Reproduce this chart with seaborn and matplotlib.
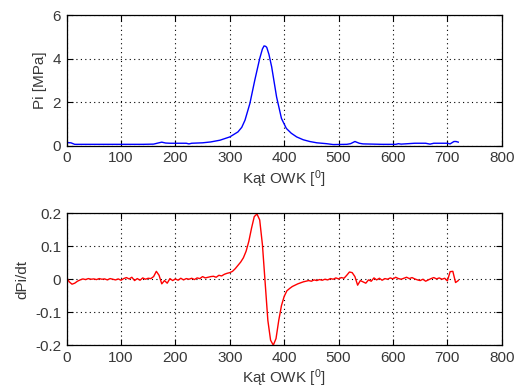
import numpy as np
import pandas as pd
import matplotlib
matplotlib.use("Agg")
import matplotlib.pyplot as plt
import seaborn as sns

# Pi(angle)
PI_ANGLE = [0, 8, 15, 30, 60, 100, 140, 160, 168, 175, 182, 190, 220, 225,
            230, 250, 265, 282, 300, 315, 322, 328, 337, 346, 355, 360, 363,
            366, 368, 372, 377, 386, 395, 404, 413, 423, 435, 447, 460, 478,
            490, 515, 522, 530, 538, 545, 580, 605, 610, 615, 640, 660, 668,
            675, 700, 705, 712, 716, 720]
PI_MPA = [0.15, 0.14, 0.07, 0.07, 0.07, 0.07, 0.07, 0.08, 0.13, 0.17, 0.13,
          0.12, 0.12, 0.09, 0.12, 0.14, 0.18, 0.26, 0.41, 0.64, 0.85, 1.18,
          1.95, 3.02, 4.01, 4.45, 4.59, 4.57, 4.52, 4.20, 3.63, 2.25, 1.26,
          0.80, 0.58, 0.41, 0.28, 0.20, 0.14, 0.10, 0.06, 0.07, 0.10, 0.20,
          0.12, 0.09, 0.07, 0.07, 0.10, 0.08, 0.12, 0.12, 0.08, 0.12, 0.12,
          0.09, 0.20, 0.20, 0.17]

# dPi/dt every 5 degrees, 0..720
DPI_ANGLE = np.arange(0, 725, 5)
DPI_DT = [
    0.005, -0.008, -0.015, -0.012, -0.006, -0.002, 0.001, -0.001, 0.002, 0.000,
    0.001, -0.001, 0.002, 0.000, 0.001, -0.002, 0.002, 0.000, -0.002, 0.001,
    -0.003, 0.002, 0.005, 0.001, 0.006, -0.004, 0.002, -0.003, 0.004, 0.000,
    0.003, 0.002, 0.008, 0.024, 0.012, -0.014, -0.004, -0.012, 0.002, -0.004,
    0.001, -0.003, 0.003, -0.002, 0.002, 0.000, 0.003, -0.001, 0.004, 0.002,
    0.008, 0.004, 0.006, 0.008, 0.009, 0.006, 0.012, 0.010, 0.015, 0.018,
    0.020, 0.024, 0.032, 0.042, 0.052, 0.065, 0.085, 0.115, 0.155, 0.190,
    0.198, 0.180, 0.105, -0.012, -0.125, -0.185, -0.200, -0.180, -0.125, -0.080,
    -0.052, -0.035, -0.028, -0.022, -0.018, -0.014, -0.011, -0.008, -0.006, -0.004,
    -0.006, -0.002, -0.004, -0.001, -0.003, 0.000, -0.002, 0.002, 0.000, 0.004,
    0.001, 0.005, 0.003, 0.012, 0.022, 0.020, 0.008, -0.018, -0.004, -0.008,
    -0.012, -0.002, -0.006, 0.004, -0.002, 0.003, -0.003, 0.002, 0.000, 0.004,
    0.001, 0.006, 0.002, 0.000, 0.003, 0.006, 0.002, 0.005, 0.001, -0.002,
    -0.004, 0.000, -0.006, -0.002, 0.002, 0.005, 0.001, 0.004, 0.000, 0.003,
    -0.005, 0.023, 0.024, -0.010, -0.004,
]

X_TICKS = [0, 100, 200, 300, 400, 500, 600, 700, 800]
PI_TICKS = [0, 2, 4, 6]
DPI_TICKS = [-0.2, -0.1, 0, 0.1, 0.2]
DPI_TICK_LABELS = ["-0.2", "-0.1", "0", "0.1", "0.2"]

XLABEL = "Kąt OWK [$\\mathregular{^0}$]"
TEXT_COLOR = "#383838"

plt.rcParams["font.family"] = ["Liberation Sans", "DejaVu Sans"]
plt.rcParams["mathtext.fontset"] = "custom"
plt.rcParams["mathtext.rm"] = "Liberation Sans"
plt.rcParams["axes.unicode_minus"] = False
plt.rcParams["font.size"] = 11


def style_axes(ax):
    ax.set_xlim(0, 800)
    ax.set_xticks(X_TICKS)
    ax.grid(True, color="black", linestyle=(0, (1, 3)), linewidth=0.8)
    ax.tick_params(direction="in", length=4, width=0.8, top=True, right=True,
                   labelsize=11, labelcolor=TEXT_COLOR, pad=4)
    for sp in ax.spines.values():
        sp.set_color("black")
        sp.set_linewidth(0.9)
    ax.set_xlabel(XLABEL, color=TEXT_COLOR, fontsize=11, labelpad=2)


pi_df = pd.DataFrame({"angle": PI_ANGLE, "pi": PI_MPA})
dpi_df = pd.DataFrame({"angle": DPI_ANGLE, "dpi": DPI_DT})

fig = plt.figure(figsize=(5.2, 3.9), dpi=100)
ax1 = fig.add_axes([0.128, 0.626, 0.837, 0.335])
ax2 = fig.add_axes([0.128, 0.115, 0.837, 0.338])

sns.lineplot(data=pi_df, x="angle", y="pi", color="blue", linewidth=1, ax=ax1)
style_axes(ax1)
ax1.set_ylim(0, 6)
ax1.set_yticks(PI_TICKS)
ax1.set_ylabel("Pi [MPa]", color=TEXT_COLOR, fontsize=11)

sns.lineplot(data=dpi_df, x="angle", y="dpi", color="red", linewidth=1, ax=ax2)
style_axes(ax2)
ax2.set_ylim(-0.2, 0.2)
ax2.set_yticks(DPI_TICKS)
ax2.set_yticklabels(DPI_TICK_LABELS)
ax2.set_ylabel("dPi/dt", color=TEXT_COLOR, fontsize=11)

fig.savefig("out.png", dpi=100, facecolor="white")
